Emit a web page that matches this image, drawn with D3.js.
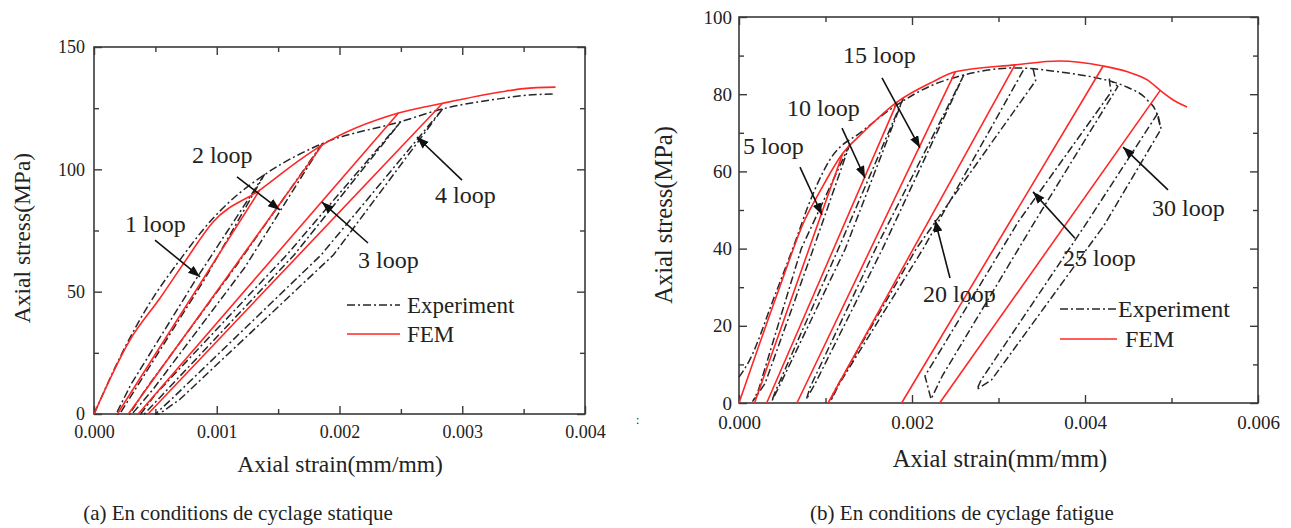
<!DOCTYPE html>
<html><head><meta charset="utf-8">
<script src="https://cdn.jsdelivr.net/npm/d3@7"></script>
<style>
body{margin:0;background:#fff}
svg{display:block}
text{font-family:"Liberation Serif","Times New Roman",serif;fill:#222}
</style>
</head><body>
<svg id="chart" width="1291" height="528"></svg>
<script>
// ---------- DATA (strain mm/mm, stress MPa) ----------
const staticStrainTicks = [0, 0.001, 0.002, 0.003, 0.004];
const staticStressTicks = [0, 50, 100, 150];
const fatigueStrainTicks = [0, 0.002, 0.004, 0.006];
const fatigueStressTicks = [0, 20, 40, 60, 80, 100];

const seriesNames = ["Experiment", "FEM"];
const captions = ["(a) En conditions de cyclage statique", "(b) En conditions de cyclage fatigue"];

// (a) static cycling
const staticFemEnvelope = [[0,0],[0.00029,30],[0.00054,47.5],[0.00075,63],[0.00097,78.5],[0.00135,91.5],[0.00168,104],[0.00186,110],[0.00248,123],[0.00284,127],[0.00331,131.6],[0.0035,133],[0.00376,133.6]];
const staticFemLoops = [
  [[0.00019,0],[0.00135,91.5]],
  [[0.00028,0],[0.00186,110]],
  [[0.00036,0],[0.00248,123]],
  [[0.00044,0],[0.00284,127]]
];
const staticExpEnvelope = [[0,0],[0.00025,27],[0.00045,45],[0.0007,63],[0.00097,80],[0.00111,87],[0.00141,98.5],[0.00186,110.5],[0.0025,119.5],[0.00284,124.7],[0.00331,128.9],[0.0035,130.2],[0.00376,130.8]];
const staticExpLoops = [
  [[0.00139,98],[0.00083,55],[0.0003,12],[0.00018,0],[0.00021,0],[0.00036,12],[0.0009,55],[0.00139,98]],
  [[0.00186,110.5],[0.00115,60],[0.00042,10],[0.00029,0],[0.00031,0],[0.00048,10],[0.00123,60],[0.00186,110.5]],
  [[0.0025,119.5],[0.00157,65],[0.0005,8],[0.00038,0],[0.00041,0],[0.00056,8],[0.00163,65],[0.0025,119.5]],
  [[0.00284,124.7],[0.00185,65],[0.00063,6],[0.0005,0],[0.00053,0],[0.0007,6],[0.00195,65],[0.00284,124.7]]
];
const staticNotes = [
  {text:"1 loop", at:[0.000253,74.4], from:[0.000497,71.1], to:[0.000864,56.0]},
  {text:"2 loop", at:[0.000798,102.6], from:[0.001165,96.9], to:[0.001515,83.4]},
  {text:"3 loop", at:[0.002151,59.7], from:[0.002232,69.9], to:[0.001857,86.6]},
  {text:"4 loop", at:[0.002778,86.2], from:[0.002998,95.6], to:[0.002631,113.2]}
];

// (b) fatigue cycling
const fatigueFemEnvelope = [[0,0],[0.00047,30],[0.00076,47.4],[0.00094,55],[0.0012,64.7],[0.00143,70],[0.00183,78],[0.00224,83.2],[0.0025,85.8],[0.00319,87.6],[0.0037,88.6],[0.00421,87.3],[0.00449,85.8],[0.00472,83.7],[0.00487,81],[0.00502,78.5],[0.00518,76.7]];
const fatigueFemLoops = [
  [[0.00018,0],[0.0012,64.7]],
  [[0.00032,0],[0.00183,78]],
  [[0.00067,0],[0.0025,85.8]],
  [[0.00103,0],[0.00319,87.6]],
  [[0.00188,0],[0.00421,87.3]],
  [[0.00232,0],[0.00487,81]]
];
const fatigueExpEnvelope = [[0,6.7],[0.00012,11],[0.0004,27],[0.00067,43],[0.00079,50.5],[0.00105,63],[0.00143,70.5],[0.00183,77.3],[0.0022,82],[0.00255,84.7],[0.00319,86.8],[0.0037,85.8],[0.00414,84.2],[0.00432,83.2],[0.00449,81.8],[0.00472,78.5],[0.00483,75],[0.00487,71.5]];
const fatigueExpLoops = [
  [[0.00128,67],[0.00072,40],[0.00022,3],[0.00016,0.5],[0.0003,5],[0.00086,40],[0.00128,67]],
  [[0.0019,79],[0.00115,40],[0.00042,3],[0.00038,0.5],[0.00048,5],[0.00123,40],[0.0019,79]],
  [[0.0026,85],[0.00158,40],[0.00082,4],[0.00078,1],[0.00088,5],[0.00166,40],[0.0026,85]],
  [[0.0034,86.6],[0.00343,83.5],[0.00205,40],[0.0011,3],[0.00106,0.5],[0.00116,5],[0.00213,40],[0.0033,86.7]],
  [[0.00428,84],[0.0043,80.5],[0.00323,47],[0.00215,7],[0.00222,1],[0.00235,7],[0.00342,47],[0.00438,82],[0.00428,84]],
  [[0.00484,75],[0.0040,46],[0.0028,6],[0.00275,3.5],[0.00292,6],[0.00422,46],[0.00488,71],[0.00484,75]]
];
const fatigueNotes = [
  {text:"5 loop", at:[0.000046,64.5], from:[0.000705,61.1], to:[0.00096,48.7]},
  {text:"10 loop", at:[0.000555,74.4], from:[0.001191,71.2], to:[0.001457,58.3]},
  {text:"15 loop", at:[0.001202,88.1], from:[0.001653,84.2], to:[0.002092,66.1]},
  {text:"20 loop", at:[0.002127,26.2], from:[0.002439,32.4], to:[0.002266,47.4]},
  {text:"25 loop", at:[0.003746,35.5], from:[0.003884,42.7], to:[0.003399,54.7]},
  {text:"30 loop", at:[0.004775,48.4], from:[0.00496,55.2], to:[0.00444,66.3]}
];

// ---------- DRAWING ----------
const svg = d3.select("#chart");
const RED = "#ff2626", BLACK = "#262626", FRAME = "#3a3a3a";
const DASH = "8,3,2,3";

svg.append("defs").append("marker")
  .attr("id","arrow").attr("markerUnits","userSpaceOnUse")
  .attr("markerWidth",13).attr("markerHeight",10)
  .attr("refX",12).attr("refY",4.5).attr("orient","auto")
  .append("path").attr("d","M0,0 L12,4.5 L0,9 Z").attr("fill","#111");

function drawPanel(p) {
  const x = d3.scaleLinear().domain(p.xDomain).range([p.x0, p.x1]);
  const y = d3.scaleLinear().domain(p.yDomain).range([p.y1, p.y0]);
  const g = svg.append("g");
  const mid = a => a.slice(1).map((v,i) => (v + a[i]) / 2);
  const xMinor = mid(p.xTicks), yMinor = mid(p.yTicks);

  const axisDefs = [
    [d3.axisBottom, x, `translate(0,${p.y1})`, p.xTicks, xMinor, d3.format(".3f"), p.xPad],
    [d3.axisTop, x, `translate(0,${p.y0})`, p.xTicks, xMinor, null, 0],
    [d3.axisLeft, y, `translate(${p.x0},0)`, p.yTicks, yMinor, d3.format("d"), p.yPad],
    [d3.axisRight, y, `translate(${p.x1},0)`, p.yTicks, yMinor, null, 0]
  ];
  axisDefs.forEach(([fn, sc, tr, major, minor, fmt, pad]) => {
    const ga = g.append("g").attr("transform", tr)
      .call(fn(sc).tickValues(major).tickSize(-8).tickPadding(pad)
        .tickFormat(fmt ? fmt : () => ""));
    ga.select(".domain").remove();
    ga.selectAll("line").attr("stroke", FRAME).attr("stroke-width", 1.4);
    ga.selectAll("text").style("font-size", p.tickFont + "px")
      .style("font-family", '"Liberation Serif",serif').attr("fill", "#2a2a2a");
    const gm = g.append("g").attr("transform", tr)
      .call(fn(sc).tickValues(minor).tickSize(-5).tickFormat(() => ""));
    gm.select(".domain").remove();
    gm.selectAll("line").attr("stroke", FRAME).attr("stroke-width", 1.4);
  });

  g.append("rect").attr("x", p.x0).attr("y", p.y0)
    .attr("width", p.x1 - p.x0).attr("height", p.y1 - p.y0)
    .attr("fill", "none").attr("stroke", FRAME).attr("stroke-width", 1.6);

  const smooth = d3.line().x(d => x(d[0])).y(d => y(d[1])).curve(d3.curveMonotoneX);
  const straight = d3.line().x(d => x(d[0])).y(d => y(d[1]));

  // experiment (dash-dot)
  const ge = g.append("g").attr("fill","none").attr("stroke",BLACK)
    .attr("stroke-width",1.5).attr("stroke-dasharray",DASH).attr("stroke-linejoin","round");
  p.expLoops.forEach(l => ge.append("path").attr("d", straight(l)));
  ge.append("path").attr("d", smooth(p.expEnv));

  // FEM (red)
  const gf = g.append("g").attr("fill","none").attr("stroke",RED).attr("stroke-width",1.6);
  p.femLoops.forEach(l => gf.append("path").attr("d", straight(l)));
  gf.append("path").attr("d", smooth(p.femEnv));

  // annotations
  p.notes.forEach(n => {
    g.append("line")
      .attr("x1", x(n.from[0])).attr("y1", y(n.from[1]))
      .attr("x2", x(n.to[0])).attr("y2", y(n.to[1]))
      .attr("stroke","#111").attr("stroke-width",1.6)
      .attr("marker-end","url(#arrow)");
    g.append("text").attr("x", x(n.at[0])).attr("y", y(n.at[1]))
      .style("font-size", p.noteFont + "px").text(n.text);
  });

  // legend
  p.legend.forEach((L, i) => {
    g.append("line").attr("x1", L.x).attr("x2", L.x + L.len)
      .attr("y1", L.y).attr("y2", L.y)
      .attr("stroke", i === 0 ? BLACK : RED).attr("stroke-width", 1.6)
      .attr("stroke-dasharray", i === 0 ? DASH : null);
    g.append("text").attr("x", L.tx).attr("y", L.y).attr("dy","0.33em")
      .style("font-size", p.legendFont + "px").text(seriesNames[i]);
  });

  // axis titles
  g.append("text").attr("x", p.xTitle[0]).attr("y", p.xTitle[1])
    .attr("text-anchor","middle").style("font-size", p.titleFont + "px")
    .text("Axial strain(mm/mm)");
  g.append("text").attr("transform", `translate(${p.yTitle[0]},${p.yTitle[1]}) rotate(-90)`)
    .attr("text-anchor","middle").style("font-size", p.titleFont + "px")
    .text("Axial stress(MPa)");
  // caption
  g.append("text").attr("x", p.caption[0]).attr("y", p.caption[1])
    .attr("text-anchor","middle").style("font-size","21px").attr("fill","#111")
    .text(p.captionText);
}

drawPanel({
  x0:94, x1:585, y0:47, y1:414,
  xDomain:[0,0.004], yDomain:[0,150],
  xTicks:staticStrainTicks, yTicks:staticStressTicks,
  xPad:11, yPad:9, tickFont:18, noteFont:24, legendFont:23, titleFont:23.5,
  femEnv:staticFemEnvelope, femLoops:staticFemLoops,
  expEnv:staticExpEnvelope, expLoops:staticExpLoops,
  notes:staticNotes,
  legend:[{x:347,y:305,len:53,tx:407},{x:347,y:334,len:53,tx:407}],
  xTitle:[340,472], yTitle:[30,238],
  caption:[238,520], captionText:captions[0]
});

drawPanel({
  x0:739, x1:1258, y0:17, y1:403,
  xDomain:[0,0.006], yDomain:[0,100],
  xTicks:fatigueStrainTicks, yTicks:fatigueStressTicks,
  xPad:13, yPad:7, tickFont:19, noteFont:24, legendFont:24, titleFont:24.5,
  femEnv:fatigueFemEnvelope, femLoops:fatigueFemLoops,
  expEnv:fatigueExpEnvelope, expLoops:fatigueExpLoops,
  notes:fatigueNotes,
  legend:[{x:1060,y:309,len:57,tx:1118},{x:1060,y:339,len:57,tx:1125}],
  xTitle:[1000,467], yTitle:[672,215],
  caption:[962,520], captionText:captions[1]
});

// small stray mark present in the source figure
svg.append("text").attr("x",636).attr("y",424).style("font-size","12px")
  .attr("fill","#888").text(":");
</script>
</body></html>
